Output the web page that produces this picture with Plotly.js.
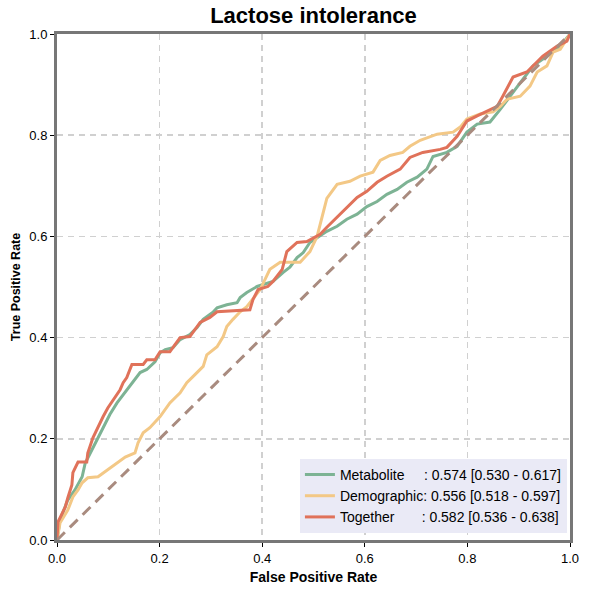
<!DOCTYPE html>
<html>
<head>
<meta charset="utf-8">
<script src="https://cdn.plot.ly/plotly-3.0.1.min.js"></script>
<style>
  body { margin: 0; background: #fff; }
  #roc { width: 591px; height: 592px; }
</style>
</head>
<body>
<div id="roc"></div>
<script>
// ROC points (false positive rate, true positive rate)
var metaboliteFpr = [0, 0.004, 0.006, 0.021, 0.035, 0.049, 0.055, 0.060, 0.068, 0.074, 0.084, 0.094, 0.103, 0.117, 0.136, 0.148, 0.162, 0.175, 0.191, 0.201, 0.211, 0.226, 0.240, 0.259, 0.273, 0.285, 0.304, 0.312, 0.331, 0.351, 0.357, 0.370, 0.390, 0.402, 0.421, 0.441, 0.454, 0.468, 0.480, 0.493, 0.507, 0.526, 0.546, 0.565, 0.585, 0.604, 0.624, 0.643, 0.663, 0.682, 0.702, 0.721, 0.733, 0.760, 0.780, 0.799, 0.819, 0.844, 0.864, 0.883, 0.903, 0.928, 0.955, 0.981, 1.0];
var metaboliteTpr = [0, 0.024, 0.040, 0.079, 0.099, 0.125, 0.152, 0.162, 0.178, 0.192, 0.212, 0.232, 0.248, 0.271, 0.297, 0.313, 0.331, 0.337, 0.352, 0.370, 0.376, 0.380, 0.396, 0.406, 0.420, 0.436, 0.450, 0.459, 0.465, 0.469, 0.479, 0.489, 0.501, 0.505, 0.511, 0.529, 0.539, 0.558, 0.568, 0.588, 0.598, 0.610, 0.620, 0.634, 0.644, 0.659, 0.669, 0.683, 0.693, 0.707, 0.717, 0.733, 0.758, 0.766, 0.778, 0.806, 0.822, 0.826, 0.851, 0.877, 0.905, 0.937, 0.956, 0.976, 1.0];

var demographicFpr = [0, 0.004, 0.006, 0.012, 0.021, 0.031, 0.041, 0.049, 0.060, 0.080, 0.099, 0.117, 0.133, 0.152, 0.158, 0.168, 0.181, 0.201, 0.220, 0.240, 0.253, 0.265, 0.285, 0.292, 0.312, 0.324, 0.331, 0.343, 0.357, 0.370, 0.386, 0.396, 0.415, 0.435, 0.474, 0.493, 0.507, 0.513, 0.526, 0.546, 0.571, 0.591, 0.616, 0.630, 0.649, 0.674, 0.688, 0.708, 0.741, 0.772, 0.786, 0.799, 0.825, 0.850, 0.864, 0.877, 0.903, 0.922, 0.936, 0.955, 0.967, 0.981, 1.0];
var demographicTpr = [0, 0.020, 0.034, 0.044, 0.059, 0.085, 0.099, 0.113, 0.123, 0.125, 0.139, 0.152, 0.164, 0.172, 0.192, 0.212, 0.222, 0.244, 0.271, 0.291, 0.311, 0.323, 0.343, 0.366, 0.382, 0.402, 0.422, 0.436, 0.451, 0.461, 0.481, 0.495, 0.535, 0.549, 0.549, 0.570, 0.600, 0.624, 0.675, 0.703, 0.709, 0.719, 0.727, 0.750, 0.760, 0.766, 0.778, 0.790, 0.802, 0.806, 0.816, 0.832, 0.842, 0.846, 0.857, 0.871, 0.877, 0.897, 0.925, 0.937, 0.964, 0.970, 1.0];

var togetherFpr = [0, 0.002, 0.006, 0.016, 0.021, 0.029, 0.031, 0.041, 0.058, 0.060, 0.070, 0.080, 0.090, 0.099, 0.113, 0.123, 0.129, 0.136, 0.146, 0.168, 0.175, 0.191, 0.201, 0.220, 0.230, 0.240, 0.259, 0.273, 0.279, 0.298, 0.312, 0.376, 0.382, 0.392, 0.411, 0.421, 0.439, 0.448, 0.468, 0.487, 0.513, 0.526, 0.538, 0.558, 0.571, 0.585, 0.604, 0.624, 0.643, 0.669, 0.688, 0.713, 0.747, 0.760, 0.780, 0.799, 0.819, 0.838, 0.858, 0.869, 0.889, 0.916, 0.936, 0.947, 0.975, 0.994, 1.0];
var togetherTpr = [0, 0.036, 0.044, 0.065, 0.083, 0.109, 0.133, 0.154, 0.154, 0.172, 0.202, 0.224, 0.244, 0.261, 0.283, 0.297, 0.311, 0.321, 0.347, 0.347, 0.356, 0.356, 0.372, 0.372, 0.386, 0.400, 0.402, 0.422, 0.430, 0.440, 0.451, 0.455, 0.475, 0.495, 0.501, 0.511, 0.535, 0.570, 0.588, 0.590, 0.604, 0.618, 0.630, 0.650, 0.663, 0.677, 0.689, 0.707, 0.719, 0.733, 0.756, 0.766, 0.772, 0.776, 0.798, 0.828, 0.838, 0.848, 0.857, 0.877, 0.915, 0.925, 0.945, 0.956, 0.976, 0.986, 1.0];

var chanceLine = [0, 1];

var seriesNames = [
    'Metabolite\u00a0\u00a0\u00a0\u00a0\u00a0: 0.574 [0.530 - 0.617]',
    'Demographic: 0.556 [0.518 - 0.597]',
    'Together\u00a0\u00a0\u00a0\u00a0\u00a0\u00a0\u00a0: 0.582 [0.536 - 0.638]'
];
var seriesColors = ['#7db394', '#f3c886', '#e0725a'];
var tickValues = [0, 0.2, 0.4, 0.6, 0.8, 1.0];

var traces = [
    { x: metaboliteFpr, y: metaboliteTpr, name: seriesNames[0] },
    { x: demographicFpr, y: demographicTpr, name: seriesNames[1] },
    { x: togetherFpr, y: togetherTpr, name: seriesNames[2] }
].map(function(t, i) {
    t.type = 'scatter';
    t.mode = 'lines';
    t.line = { color: seriesColors[i], width: 3 };
    return t;
});

traces.push({
    type: 'scatter',
    mode: 'lines',
    x: chanceLine,
    y: chanceLine,
    showlegend: false,
    line: { color: '#a98b7f', width: 3, dash: '11px,7px' }
});

function axis(titleText, titleSize, standoff) {
    return {
        range: [0, 1],
        tickvals: tickValues,
        tickformat: '.1f',
        ticks: 'outside',
        ticklen: 4,
        tickcolor: '#000',
        tickfont: { size: 13, color: '#000' },
        showline: true,
        linecolor: '#777',
        linewidth: 3,
        mirror: true,
        showgrid: true,
        gridcolor: '#d0d0d0',
        griddash: '6px,5px',
        gridwidth: 1.5,
        zeroline: false,
        title: { text: titleText, font: { size: titleSize, color: '#000', weight: 'bold' }, standoff: standoff }
    };
}

var layout = {
    width: 591,
    height: 592,
    margin: { l: 57, r: 21, t: 34, b: 52 },
    font: { family: 'Liberation Sans, Arial, sans-serif', color: '#000' },
    paper_bgcolor: '#fff',
    plot_bgcolor: '#fff',
    title: {
        text: 'Lactose intolerance',
        font: { size: 22, color: '#000', weight: 'bold' },
        xref: 'paper', x: 0.5, xanchor: 'center',
        yref: 'container', y: 0.988, yanchor: 'top'
    },
    xaxis: axis('False Positive Rate', 14, 8),
    yaxis: axis('True Positive Rate', 12.5, 6),
    legend: {
        x: 0.994, xanchor: 'right',
        y: 0.014, yanchor: 'bottom',
        bgcolor: '#eaeaf6',
        font: { size: 14, color: '#000' },
        itemwidth: 30,
        borderwidth: 0
    },
    showlegend: true
};

Plotly.newPlot('roc', traces, layout, { displayModeBar: false, staticPlot: true });
</script>
</body>
</html>
